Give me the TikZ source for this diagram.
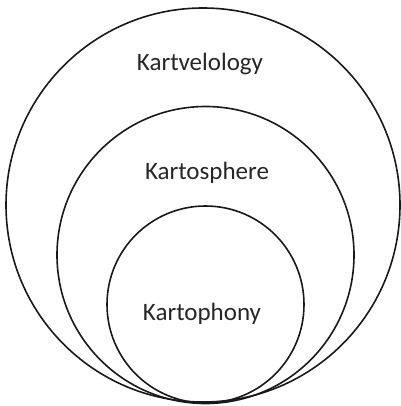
\documentclass[tikz,border=0pt]{standalone}
\usepackage{fontspec}
\setmainfont{Carlito}
\begin{document}
\begin{tikzpicture}[x=1pt,y=-1pt,
  ring/.style={draw=black!90,line width=1.6pt},
  lbl/.style={font=\fontsize{25}{29}\selectfont,text=black!85,inner sep=0pt}]
\useasboundingbox (0,0) rectangle (400,406);
\draw[ring] (203,205) circle[radius=197];
\draw[ring] (205.5,255) circle[radius=148.5];
\draw[ring] (205.5,304.5) circle[radius=98.5];
\node[lbl] (outer) at (200,64) {Kartvelology};
\node[lbl] (middle) at (207,173) {Kartosphere};
\node[lbl] (inner) at (202,314) {Kartophony};
\end{tikzpicture}
\end{document}
